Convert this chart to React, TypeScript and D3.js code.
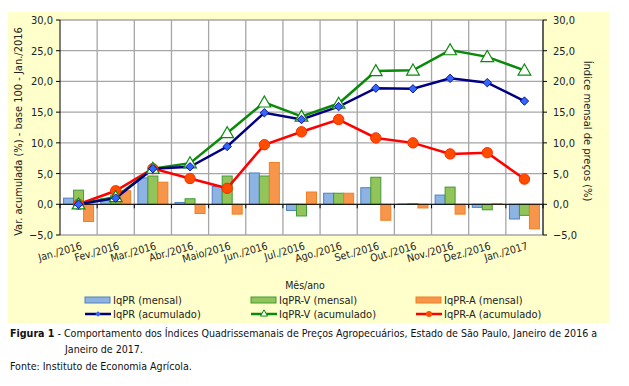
import React, { useEffect, useRef } from "react";
import * as d3 from "d3";

// ── Dados ────────────────────────────────────────────────────────────────
const meses = [
    "Jan./2016", "Fev./2016", "Mar./2016", "Abr./2016", "Maio/2016", "Jun./2016", "Jul./2016",
    "Ago./2016", "Set./2016", "Out./2016", "Nov./2016", "Dez./2016", "Jan./2017",
];
const iqprMensal = [1.0, 0.9, 4.3, 0.3, 2.9, 5.1, -1.0, 1.8, 2.7, 0.05, 1.5, -0.5, -2.4];
const iqprVMensal = [2.3, 1.5, 4.6, 0.9, 4.6, 4.6, -1.9, 1.8, 4.4, 0.1, 2.8, -0.9, -1.8];
const iqprAMensal = [-2.8, 2.2, 3.6, -1.5, -1.6, 6.8, 2.0, 1.8, -2.6, -0.6, -1.6, 0.1, -4.0];
const iqprAcum = [0.0, 1.0, 5.8, 6.1, 9.4, 14.9, 13.8, 15.9, 18.9, 18.8, 20.5, 19.8, 16.8];
const iqprVAcum = [0.0, 1.2, 5.8, 6.7, 11.6, 16.6, 14.3, 16.4, 21.7, 21.8, 25.1, 24.0, 21.8];
const iqprAAcum = [0.0, 2.2, 5.8, 4.2, 2.6, 9.7, 11.8, 13.8, 10.8, 10.0, 8.2, 8.4, 4.1];
const yTicks = [-5, 0, 5, 10, 15, 20, 25, 30];

const FONT = "'DejaVu Sans Condensed', 'DejaVu Sans', sans-serif";

const App: React.FC = () => {
    const svgRef = useRef<SVGSVGElement | null>(null);

    useEffect(() => {
        if (!svgRef.current) return;
        const W = 629, H = 386;
        const L = 60, R = 543, T = 20, B = 235;

        const root = d3.select(svgRef.current);
        root.selectAll("*").remove();
        root.attr("width", W).attr("height", H).attr("font-family", FONT);

        const fmt = (v: number) => d3.format(".1f")(v).replace(".", ",");

        // fundo amarelo
        root.append("rect").attr("x", 8).attr("y", 12).attr("width", 601).attr("height", 311)
            .attr("fill", "#ffffcc");
        root.append("rect").attr("x", L).attr("y", T).attr("width", R - L).attr("height", B - T)
            .attr("fill", "#ffffff");

        // ── Escalas ──────────────────────────────────────────────────────────
        const x = d3.scaleBand<string>().domain(meses).range([L, R]);
        const y = d3.scaleLinear().domain([-5, 30]).range([B, T]);
        const series = ["a", "b", "c"];
        const xs = d3.scaleBand<string>().domain(series).range([-15, 15]);
        const cx = (i: number) => (x(meses[i]) ?? 0) + x.bandwidth() / 2;

        // ── Grid ─────────────────────────────────────────────────────────────
        const grid = root.append("g").attr("stroke", "#a6a6a6").attr("stroke-width", 1.3);
        yTicks.forEach((t) => {
            grid.append("line").attr("x1", L).attr("x2", R).attr("y1", y(t)).attr("y2", y(t));
        });
        meses.forEach((m) => {
            const bx = (x(m) ?? 0) + x.bandwidth();
            grid.append("line").attr("x1", bx).attr("x2", bx).attr("y1", T).attr("y2", B);
        });

        // ── Barras ───────────────────────────────────────────────────────────
        const barSets = [
            { vals: iqprMensal, fill: "#8db3e2", stroke: "#4f81bd", key: "a" },
            { vals: iqprVMensal, fill: "#92c45a", stroke: "#3f9b3a", key: "b" },
            { vals: iqprAMensal, fill: "#f7964a", stroke: "#f07f22", key: "c" },
        ];
        barSets.forEach((s) => {
            root.append("g").selectAll("rect").data(s.vals).enter().append("rect")
                .attr("x", (_, i) => cx(i) + (xs(s.key) ?? 0))
                .attr("width", xs.bandwidth())
                .attr("y", (d) => y(Math.max(0, d)))
                .attr("height", (d) => Math.abs(y(d) - y(0)))
                .attr("fill", s.fill).attr("stroke", s.stroke).attr("stroke-width", 1);
        });

        // ── Eixos ────────────────────────────────────────────────────────────
        const axes = root.append("g").attr("stroke", "#000").attr("stroke-width", 1);
        axes.append("line").attr("x1", L).attr("x2", L).attr("y1", T).attr("y2", B);
        axes.append("line").attr("x1", R).attr("x2", R).attr("y1", T).attr("y2", B);
        axes.append("line").attr("x1", L).attr("x2", R).attr("y1", y(0)).attr("y2", y(0));
        yTicks.forEach((t) => {
            axes.append("line").attr("x1", L - 4).attr("x2", L).attr("y1", y(t)).attr("y2", y(t));
            axes.append("line").attr("x1", R).attr("x2", R + 4).attr("y1", y(t)).attr("y2", y(t));
        });
        meses.forEach((m) => {
            const bx = (x(m) ?? 0) + x.bandwidth();
            axes.append("line").attr("x1", bx).attr("x2", bx).attr("y1", y(0)).attr("y2", y(0) + 4);
        });
        axes.append("line").attr("x1", L).attr("x2", L).attr("y1", y(0)).attr("y2", y(0) + 4);

        const lab = root.append("g").attr("font-size", 11).attr("fill", "#222");
        yTicks.forEach((t) => {
            lab.append("text").attr("x", L - 7).attr("y", y(t) + 4).attr("text-anchor", "end").text(fmt(t));
            lab.append("text").attr("x", R + 10).attr("y", y(t) + 4).attr("text-anchor", "start").text(fmt(t));
        });
        meses.forEach((m, i) => {
            lab.append("text")
                .attr("transform", `translate(${cx(i) + 4},${B + 14}) rotate(-16)`)
                .attr("text-anchor", "end").attr("font-size", 10.5).text(m);
        });

        lab.append("text").attr("transform", `translate(22,${(T + B) / 2 + 4}) rotate(-90)`)
            .attr("text-anchor", "middle").attr("font-size", 11)
            .text("Var. acumulada (%) - base 100 - Jan./2016");
        lab.append("text").attr("transform", `translate(584,131) rotate(90)`)
            .attr("text-anchor", "middle").attr("font-size", 11)
            .text("Índice mensal de preços (%)");
        lab.append("text").attr("x", 305).attr("y", 289).attr("text-anchor", "middle").attr("font-size", 10.5)
            .text("Mês/ano");

        // ── Linhas ───────────────────────────────────────────────────────────
        const line = d3.line<number>().x((_, i) => cx(i)).y((d) => y(d));
        root.append("path").datum(iqprAAcum).attr("fill", "none").attr("stroke", "#ff0000")
            .attr("stroke-width", 2.5).attr("d", line);
        root.append("path").datum(iqprVAcum).attr("fill", "none").attr("stroke", "#0a8a0a")
            .attr("stroke-width", 2.5).attr("d", line);
        root.append("path").datum(iqprAcum).attr("fill", "none").attr("stroke", "#000080")
            .attr("stroke-width", 2.5).attr("d", line);

        const diamond = d3.symbol().type(d3.symbolSquare).size(36);
        const triangle = d3.symbol().type(d3.symbolTriangle).size(70);

        root.append("g").selectAll("path").data(iqprAAcum).enter().append("circle")
            .attr("cx", (_, i) => cx(i)).attr("cy", (d) => y(d)).attr("r", 5.2)
            .attr("fill", "#ff4d00").attr("stroke", "#ff2a00").attr("stroke-width", 1);
        root.append("g").selectAll("path").data(iqprVAcum).enter().append("path")
            .attr("transform", (d, i) => `translate(${cx(i)},${y(d) + 1})`)
            .attr("d", triangle).attr("fill", "#ffffff").attr("stroke", "#0a8a0a").attr("stroke-width", 1.2);
        root.append("g").selectAll("path").data(iqprAcum).enter().append("path")
            .attr("transform", (d, i) => `translate(${cx(i)},${y(d)}) rotate(45)`)
            .attr("d", diamond).attr("fill", "#3366ff").attr("stroke", "#000080").attr("stroke-width", 0.8);

        // ── Legenda ──────────────────────────────────────────────────────────
        const leg = root.append("g").attr("font-size", 11).attr("fill", "#222");
        const cols = [85, 251, 416];
        const barLeg = [
            { label: "IqPR (mensal)", fill: "#8db3e2", stroke: "#4f81bd" },
            { label: "IqPR-V (mensal)", fill: "#92c45a", stroke: "#3f9b3a" },
            { label: "IqPR-A (mensal)", fill: "#f7964a", stroke: "#f07f22" },
        ];
        barLeg.forEach((b, i) => {
            leg.append("rect").attr("x", cols[i]).attr("y", 297).attr("width", 25).attr("height", 6)
                .attr("fill", b.fill).attr("stroke", b.stroke);
            leg.append("text").attr("x", cols[i] + 28).attr("y", 304).text(b.label);
        });
        const lineLeg = [
            { label: "IqPR (acumulado)", color: "#000080" },
            { label: "IqPR-V  (acumulado)", color: "#0a8a0a" },
            { label: "IqPR-A  (acumulado)", color: "#ff0000" },
        ];
        lineLeg.forEach((l, i) => {
            leg.append("line").attr("x1", cols[i]).attr("x2", cols[i] + 26).attr("y1", 314).attr("y2", 314)
                .attr("stroke", l.color).attr("stroke-width", 2.5);
            const mx = cols[i] + 13;
            if (i === 0) {
                leg.append("path").attr("transform", `translate(${mx},314) rotate(45)`)
                    .attr("d", d3.symbol().type(d3.symbolSquare).size(14)).attr("fill", "#3366ff");
            } else if (i === 1) {
                leg.append("path").attr("transform", `translate(${mx},314)`)
                    .attr("d", d3.symbol().type(d3.symbolTriangle).size(22))
                    .attr("fill", "#fff").attr("stroke", l.color);
            } else {
                leg.append("circle").attr("cx", mx).attr("cy", 314).attr("r", 3).attr("fill", "#ff4d00");
            }
            leg.append("text").attr("x", cols[i] + 28).attr("y", 318).text(l.label);
        });

        // ── Legenda da figura ────────────────────────────────────────────────
        const cap = root.append("g").attr("font-size", 10.6).attr("fill", "#111");
        const t1 = cap.append("text").attr("x", 10).attr("y", 337);
        t1.append("tspan").attr("font-weight", "bold").text("Figura 1");
        t1.append("tspan").text(" - Comportamento dos Índices Quadrissemanais de Preços Agropecuários, Estado de São Paulo, Janeiro de 2016 a");
        cap.append("text").attr("x", 65).attr("y", 353).text("Janeiro de 2017.");
        cap.append("text").attr("x", 10).attr("y", 370).text("Fonte: Instituto de Economia Agrícola.");
    }, []);

    return (
        <svg ref={svgRef} style={{ position: "absolute", left: 0, top: 0, background: "#fff" }} />
    );
};

export default App;
